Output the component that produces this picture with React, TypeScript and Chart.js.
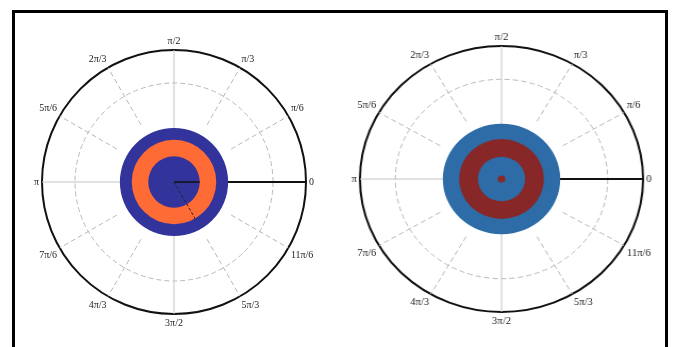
import React, { useEffect, useRef } from 'react';
import { Chart, registerables } from 'chart.js';

Chart.register(...registerables);

// ---- data ----
const angleLabels = ['π/2', 'π/3', 'π/6', '0', '11π/6', '5π/3', '3π/2', '4π/3', '7π/6', 'π', '5π/6', '2π/3'];
const cardinalLabels = ['π/2', '0', 'π', '3π/2'];
const radialTicks = [0, 0.25, 0.5, 0.75, 1];
// disk radii, innermost first (drawn on top)
const leftDiskRadii = [0.195, 0.32, 0.41];
const rightDiskRadii = [0.027, 0.167, 0.3, 0.415];

// ---- styles ----
const leftColors = ['#33349b', '#ff6b35', '#33349b'];
const rightColors = ['#8a2828', '#2d6ca7', '#872727', '#2d6ca7'];

type Extra = { label: string; from: number; to: number; color: string; width: number; dash: number[] };

const leftExtras: Extra[] = [
  { label: '0', from: 0, to: 0.195, color: '#111', width: 1.5, dash: [] },
  { label: '5π/3', from: 0, to: 0.34, color: '#222', width: 1, dash: [3, 2] },
];

type Props = {
  radii: number[];
  colors: string[];
  extras: Extra[];
  left: number;
  top: number;
  size: number;
  cssWidth: number;
};

function PolarDisk({ radii, colors, extras, left, top, size, cssWidth }: Props) {
  const ref = useRef<HTMLCanvasElement>(null);
  useEffect(() => {
    if (!ref.current) return;
    const spokes = {
      id: 'spokes',
      beforeDatasetsDraw(chart: any) {
        const s = chart.scales.r;
        const ctx = chart.ctx;
        ctx.save();
        ctx.strokeStyle = '#b8b8b8';
        ctx.lineWidth = 1;
        ctx.setLineDash([5, 3]);
        angleLabels.forEach((lab, i) => {
          if (cardinalLabels.includes(lab)) return;
          const a = s.getPointPosition(i, s.getDistanceFromCenterForValue(0.5));
          const b = s.getPointPosition(i, s.getDistanceFromCenterForValue(1));
          ctx.beginPath();
          ctx.moveTo(a.x, a.y);
          ctx.lineTo(b.x, b.y);
          ctx.stroke();
        });
        ctx.restore();
      },
      afterDatasetsDraw(chart: any) {
        const s = chart.scales.r;
        const ctx = chart.ctx;
        extras.forEach((e) => {
          const i = angleLabels.indexOf(e.label);
          const a = s.getPointPosition(i, s.getDistanceFromCenterForValue(e.from));
          const b = s.getPointPosition(i, s.getDistanceFromCenterForValue(e.to));
          ctx.save();
          ctx.strokeStyle = e.color;
          ctx.lineWidth = e.width;
          ctx.setLineDash(e.dash);
          ctx.beginPath();
          ctx.moveTo(a.x, a.y);
          ctx.lineTo(b.x, b.y);
          ctx.stroke();
          ctx.restore();
        });
      },
    };
    const chart = new Chart(ref.current, {
      type: 'polarArea',
      data: {
        labels: angleLabels,
        datasets: radii.map((r, k) => ({
          data: [r],
          backgroundColor: colors[k],
          borderWidth: 0,
        })),
      },
      options: {
        responsive: false,
        animation: false,
        layout: { padding: 0 },
        plugins: { legend: { display: false }, tooltip: { enabled: false } },
        scales: {
          r: {
            min: 0,
            max: 1,
            afterBuildTicks: (sc: any) => {
              sc.ticks = radialTicks.map((v) => ({ value: v }));
            },
            ticks: { display: false },
            grid: {
              circular: true,
              color: (c: any) => (c.tick && c.tick.value === 1 ? '#111' : c.tick && c.tick.value === 0.75 ? '#b8b8b8' : 'rgba(0,0,0,0)'),
              lineWidth: (c: any) => (c.tick && c.tick.value === 1 ? 2 : 1),
            },
            border: {
              dash: (c: any) => (c.tick && c.tick.value === 1 ? [] : [5, 3]),
            },
            angleLines: {
              display: true,
              color: (c: any) => (c.label === '0' ? '#111' : '#c4c4c4'),
              lineWidth: (c: any) => (c.label === '0' ? 2 : cardinalLabels.includes(c.label) ? 1 : 0),
            },
            pointLabels: {
              display: true,
              padding: 3,
              color: '#222',
              font: { family: 'Liberation Serif', size: 10 },
            },
          },
        },
      } as any,
      plugins: [spokes],
    });
    return () => chart.destroy();
  }, []);
  return (
    <canvas
      ref={ref}
      width={size}
      height={size}
      style={{ position: 'absolute', left, top, width: cssWidth, height: size }}
    />
  );
}

export default function App() {
  return (
    <div>
      <div
        style={{
          position: 'absolute',
          left: 12,
          top: 10,
          width: 656,
          height: 337,
          boxSizing: 'border-box',
          border: '3px solid #000',
          borderBottom: 'none',
          background: '#fff',
        }}
      />
      <PolarDisk radii={leftDiskRadii} colors={leftColors} extras={leftExtras} left={27} top={35} size={294} cssWidth={294} />
      <PolarDisk radii={rightDiskRadii} colors={rightColors} extras={[]} left={344} top={31} size={296} cssWidth={315} />
    </div>
  );
}
